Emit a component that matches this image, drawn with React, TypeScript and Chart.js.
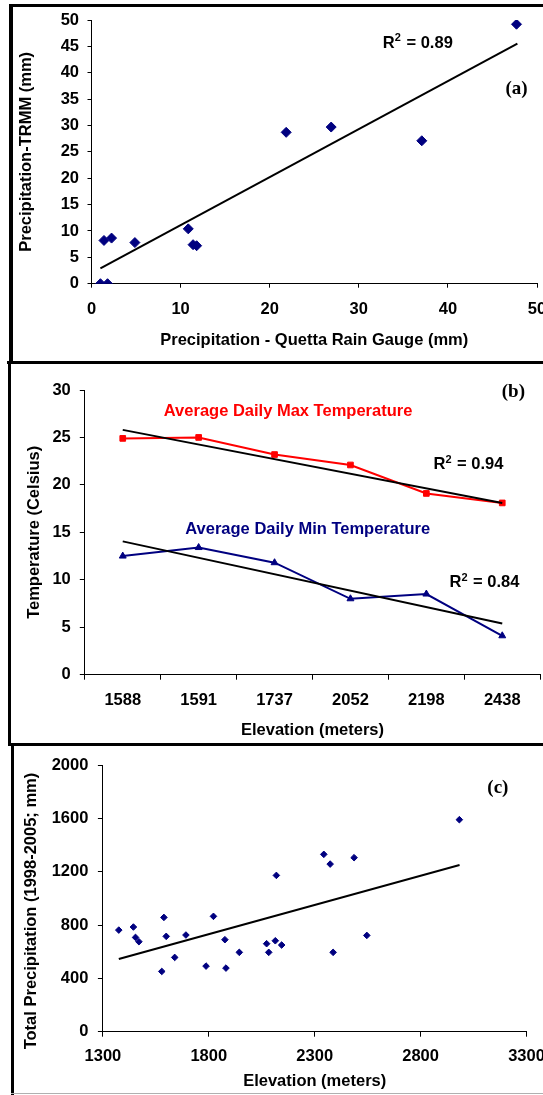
import React, { useEffect, useRef } from "react";
import { Chart, registerables } from "chart.js";

Chart.register(...registerables);

const SANS = "'Liberation Sans', Arial, Helvetica, sans-serif";
const SERIF = "'Liberation Serif', 'Times New Roman', serif";
const NAVY = "#000080";
const RED = "#ff0000";
const FS = 16.5;

// ---------- Panel (a) ----------
const gaugeA = [1.0, 1.8, 1.4, 2.25, 4.87, 10.86, 11.4, 11.8, 21.85, 26.9, 37.07, 47.7];
const trmmA = [0, 0, 8.2, 8.65, 7.8, 10.4, 7.4, 7.2, 28.7, 29.7, 27.1, 49.2];
const trendAX = [1.0, 47.8];
const trendAY = [2.9, 45.5];
const r2A = "0.89";

// ---------- Panel (b) ----------
const elevB = ["1588", "1591", "1737", "2052", "2198", "2438"];
const maxTempB = [24.9, 25.0, 23.2, 22.1, 19.1, 18.1];
const minTempB = [12.5, 13.4, 11.8, 8.0, 8.5, 4.1];
const maxTrendB = [25.8, null, null, null, null, 18.1];
const minTrendB = [14.05, null, null, null, null, 5.4];
const r2MaxB = "0.94";
const r2MinB = "0.84";

// ---------- Panel (c) ----------
const elevC = [1375, 1444, 1454, 1470, 1578, 1588, 1599, 1639, 1692, 1787, 1822, 1876, 1881, 1944, 2073, 2083, 2114, 2119, 2144, 2343, 2373, 2387, 2486, 2546, 2983];
const precipC = [762, 785, 707, 675, 452, 857, 715, 557, 725, 492, 865, 690, 477, 595, 660, 595, 682, 1172, 650, 1330, 1257, 595, 1305, 722, 1590];
const trendCX = [1375, 2984];
const trendCY = [545, 1250];

type Part = { text: string; size: number; rise?: number };
type Note = { parts: Part[]; x: number; y: number; color: string; family: string; align: "left" | "center" };

const r2Parts = (v: string): Part[] => [
  { text: "R", size: FS },
  { text: "2", size: 11, rise: 5 },
  { text: " = " + v, size: FS },
];

function notesPlugin(items: Note[], rotated?: { text: string; px: number; y: number }) {
  return {
    id: "notes",
    afterDatasetsDraw(chart: any) {
      const ctx = chart.ctx as CanvasRenderingContext2D;
      const xs = chart.scales.x;
      const ys = chart.scales.y;
      ctx.save();
      ctx.textBaseline = "middle";
      ctx.textAlign = "left";
      for (const n of items) {
        let px = xs.getPixelForValue(n.x);
        const py = ys.getPixelForValue(n.y);
        const widths = n.parts.map((p) => {
          ctx.font = `bold ${p.size}px ${n.family}`;
          return ctx.measureText(p.text).width;
        });
        const total = widths.reduce((a, b) => a + b, 0);
        if (n.align === "center") px -= total / 2;
        ctx.fillStyle = n.color;
        n.parts.forEach((p, i) => {
          ctx.font = `bold ${p.size}px ${n.family}`;
          ctx.fillText(p.text, px, py - (p.rise || 0));
          px += widths[i] + (p.rise ? 1 : 0);
        });
      }
      if (rotated) {
        const py = ys.getPixelForValue(rotated.y);
        ctx.translate(rotated.px, py);
        ctx.rotate(-Math.PI / 2);
        ctx.textAlign = "center";
        ctx.fillStyle = "#000";
        ctx.font = `bold ${FS}px ${SANS}`;
        ctx.fillText(rotated.text, 0, 0);
      }
      ctx.restore();
    },
  };
}

const tickFont = { family: SANS, size: FS, weight: "bold" as const };
const plain = (v: any) => String(v);

function axisBase(tickLen: number, fit: (s: any) => void) {
  return {
    grid: { display: true, drawOnChartArea: false, drawTicks: true, tickLength: tickLen, color: "#000", lineWidth: 1 },
    border: { display: true, color: "#000", width: 1 },
    afterFit: fit,
  };
}

function titleOpt(text: string, padding: any) {
  return { display: true, text, color: "#000", font: tickFont, padding };
}

const commonOpts = {
  responsive: false,
  animation: false as const,
  devicePixelRatio: 1,
  plugins: { legend: { display: false }, tooltip: { enabled: false } },
};

function configA(): any {
  return {
    type: "scatter",
    data: {
      datasets: [
        {
          data: trendAX.map((x, i) => ({ x, y: trendAY[i] })),
          showLine: true,
          borderColor: "#000",
          borderWidth: 2,
          pointRadius: 0,
          order: 0,
        },
        {
          data: gaugeA.map((x, i) => ({ x, y: trmmA[i] })),
          pointStyle: "rectRot",
          pointRadius: 5,
          backgroundColor: NAVY,
          borderColor: NAVY,
          borderWidth: 1,
          order: 1,
        },
      ],
    },
    options: {
      ...commonOpts,
      layout: { padding: { top: 20, right: 23, left: 0, bottom: 0 } },
      scales: {
        x: {
          type: "linear",
          min: 0,
          max: 50,
          ...axisBase(4, (s) => { s.height = 78.3; }),
          ticks: { stepSize: 10, color: "#000", padding: 11.4, font: tickFont, maxRotation: 0, callback: plain },
          title: titleOpt("Precipitation - Quetta Rain Gauge (mm)", { top: 0, bottom: 11.6 }),
        },
        y: {
          type: "linear",
          min: 0,
          max: 50,
          ...axisBase(4, (s) => { s.width = 91.5; }),
          ticks: { stepSize: 5, color: "#000", padding: 8.5, font: tickFont, callback: plain },
          title: titleOpt("Precipitation-TRMM (mm)", { top: 16.1, bottom: 0 }),
        },
      },
    },
    plugins: [
      notesPlugin([
        { parts: r2Parts(r2A), x: 32.7, y: 45.6, color: "#000", family: SANS, align: "left" },
        { parts: [{ text: "(a)", size: 19 }], x: 47.7, y: 36.9, color: "#000", family: SERIF, align: "center" },
      ]),
    ],
  };
}

function configB(): any {
  return {
    type: "line",
    data: {
      labels: elevB,
      datasets: [
        { data: maxTrendB, spanGaps: true, borderColor: "#000", borderWidth: 2, pointRadius: 0, order: 0 },
        { data: minTrendB, spanGaps: true, borderColor: "#000", borderWidth: 2, pointRadius: 0, order: 0 },
        {
          data: maxTempB,
          borderColor: RED,
          backgroundColor: RED,
          borderWidth: 2,
          pointStyle: "rect",
          pointRadius: 4,
          pointBorderWidth: 1,
          tension: 0,
          order: 1,
        },
        {
          data: minTempB,
          borderColor: NAVY,
          backgroundColor: NAVY,
          borderWidth: 2,
          pointStyle: "triangle",
          pointRadius: 4,
          pointBorderWidth: 1,
          tension: 0,
          order: 1,
        },
      ],
    },
    options: {
      ...commonOpts,
      layout: { padding: { top: 28, right: 19.8, left: 0, bottom: 0 } },
      scales: {
        x: {
          type: "category",
          offset: true,
          ...axisBase(5, (s) => { s.height = 68.3; }),
          grid: { display: true, offset: true, drawOnChartArea: false, drawTicks: true, tickLength: 5, color: "#000", lineWidth: 1 },
          ticks: { color: "#000", padding: 10.4, font: tickFont, maxRotation: 0, autoSkip: false },
          title: titleOpt("Elevation (meters)", { top: 0, bottom: 3.1 }),
        },
        y: {
          type: "linear",
          min: 0,
          max: 30,
          ...axisBase(5, (s) => { s.width = 84.8; }),
          ticks: { stepSize: 5, color: "#000", padding: 9, font: tickFont, callback: plain },
          title: titleOpt("Temperature (Celsius)", { top: 24.7, bottom: 0 }),
        },
      },
    },
    plugins: [
      notesPlugin([
        { parts: [{ text: "Average Daily Max Temperature", size: FS }], x: 0.541, y: 27.71, color: RED, family: SANS, align: "left" },
        { parts: r2Parts(r2MaxB), x: 4.094, y: 22.15, color: "#000", family: SANS, align: "left" },
        { parts: [{ text: "Average Daily Min Temperature", size: FS }], x: 0.824, y: 15.32, color: NAVY, family: SANS, align: "left" },
        { parts: r2Parts(r2MinB), x: 4.305, y: 9.69, color: "#000", family: SANS, align: "left" },
        { parts: [{ text: "(b)", size: 19 }], x: 5.147, y: 29.76, color: "#000", family: SERIF, align: "center" },
      ]),
    ],
  };
}

function configC(): any {
  return {
    type: "scatter",
    data: {
      datasets: [
        {
          data: trendCX.map((x, i) => ({ x, y: trendCY[i] })),
          showLine: true,
          borderColor: "#000",
          borderWidth: 2,
          pointRadius: 0,
          order: 0,
        },
        {
          data: elevC.map((x, i) => ({ x, y: precipC[i] })),
          pointStyle: "rectRot",
          pointRadius: 3.3,
          backgroundColor: NAVY,
          borderColor: NAVY,
          borderWidth: 1,
          order: 1,
        },
      ],
    },
    options: {
      ...commonOpts,
      layout: { padding: { top: 22, right: 33.5, left: 0, bottom: 0 } },
      scales: {
        x: {
          type: "linear",
          min: 1300,
          max: 3300,
          ...axisBase(5, (s) => { s.height = 63.3; }),
          ticks: { stepSize: 500, color: "#000", padding: 9.4, font: tickFont, maxRotation: 0, callback: plain },
          title: titleOpt("Elevation (meters)", { top: 0, bottom: 3.4 }),
        },
        y: {
          type: "linear",
          min: 0,
          max: 2000,
          ...axisBase(5, (s) => { s.width = 102.9; }),
          ticks: { stepSize: 400, color: "#000", padding: 9.5, font: tickFont, callback: plain },
        },
      },
    },
    plugins: [
      notesPlugin(
        [{ parts: [{ text: "(c)", size: 19 }], x: 3165, y: 1830, color: "#000", family: SERIF, align: "center" }],
        { text: "Total Precipitation (1998-2005; mm)", px: 31.2, y: 905 }
      ),
    ],
  };
}

function Panel({ top, height, make }: { top: number; height: number; make: () => any }) {
  const ref = useRef<HTMLCanvasElement>(null);
  useEffect(() => {
    const chart = new Chart(ref.current as HTMLCanvasElement, make());
    return () => chart.destroy();
  }, []);
  return (
    <canvas
      ref={ref}
      width={560}
      height={height}
      style={{ position: "absolute", left: 0, top, width: 560, height, display: "block" }}
    />
  );
}

const bar = (left: number, top: number, width: number, height: number, color = "#000") => (
  <div style={{ position: "absolute", left, top, width, height, background: color, pointerEvents: "none" }} />
);

export default function App() {
  return (
    <div
      style={{
        position: "absolute",
        left: 0,
        top: 0,
        width: 543,
        height: 1095,
        overflow: "hidden",
        background: "#fff",
      }}
    >
      <Panel top={0} height={362} make={configA} />
      <Panel top={362} height={381} make={configB} />
      <Panel top={743} height={352} make={configC} />
      {bar(9, 4, 540, 3)}
      {bar(9, 4, 3.5, 360)}
      {bar(7, 361, 540, 3)}
      {bar(7.5, 361, 3.5, 384)}
      {bar(7.5, 743, 540, 2.5)}
      {bar(11, 743, 3, 352)}
      {bar(11, 1093, 540, 1, "#b0b0b0")}
    </div>
  );
}
